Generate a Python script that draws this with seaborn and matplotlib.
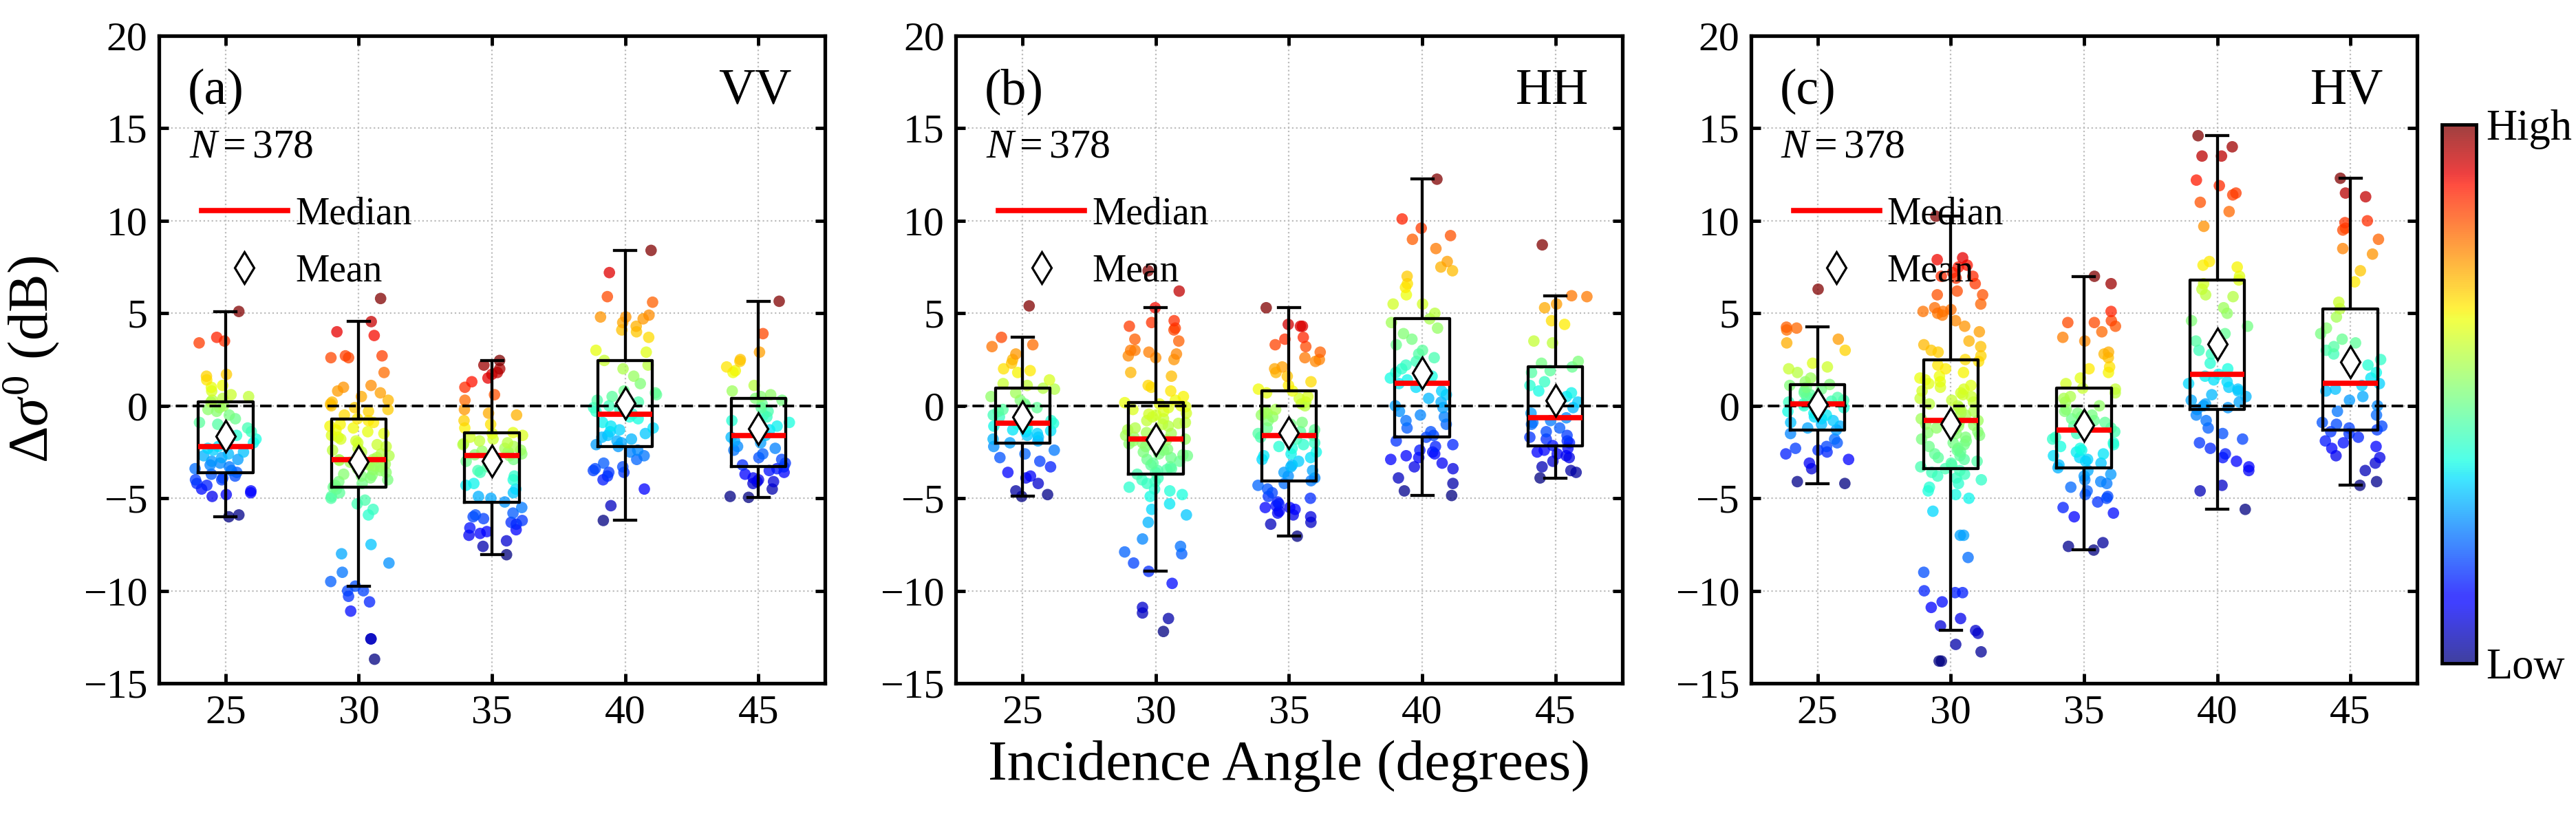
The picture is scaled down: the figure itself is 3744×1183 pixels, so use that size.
import numpy as np
import pandas as pd
import matplotlib
matplotlib.use("Agg")
import matplotlib as mpl
import matplotlib.pyplot as plt
import seaborn as sns
from matplotlib.lines import Line2D

np.random.seed(3)

angles = ["25", "30", "35", "40", "45"]
pols = ["VV", "HH", "HV"]
tags = ["(a)", "(b)", "(c)"]
n_text = "$N = 378$"

# ---- VV ----
vv_25 = [-6.0, -5.9, -4.9, -4.8, -4.7, -4.6, -4.5, -4.3, -4.2, -4.0, -4.0, -3.9, -3.8, -3.7, -3.6,
         -3.5, -3.4, -3.3, -3.2, -3.1, -3.0, -2.9, -2.8, -2.7, -2.6, -2.5, -2.4, -2.3, -2.2,
         -2.0, -1.8, -1.6, -1.4, -1.2, -1.0, -0.9, -0.7, -0.5, -0.3, -0.2, -0.1, 0.0, 0.2,
         0.3, 0.4, 0.5, 0.6, 0.8, 1.0, 1.1, 1.4, 1.6, 1.7, 3.4, 3.5, 3.7, 5.1]
vv_30 = [-13.7, -12.6, -12.6, -11.1, -10.6, -10.3, -10.0, -10.0, -9.75, -9.5, -9.0, -8.5, -8.0, -7.5,
         -5.9, -5.6, -5.3, -5.1, -5.0, -4.9, -4.7, -4.5, -4.4,
         -4.3, -4.2, -4.1, -4.0, -3.9, -3.8, -3.75, -3.7, -3.6, -3.5, -3.45, -3.4, -3.3, -3.25, -3.2,
         -3.15, -3.1, -3.05, -3.0, -2.95, -2.92, -2.9,
         -2.8, -2.7, -2.6, -2.5, -2.4, -2.3, -2.2, -2.1, -2.0, -1.9, -1.8, -1.7, -1.6, -1.5, -1.4,
         -1.3, -1.2, -1.1, -1.0, -0.9, -0.8, -0.7,
         -0.5, -0.3, -0.2, -0.1, 0.0, 0.1, 0.2, 0.3, 0.5, 0.7, 0.8, 1.0, 1.1, 1.8, 2.6, 2.6, 2.7,
         2.7, 3.8, 4.0, 4.55, 5.8]
vv_35 = [-8.05, -7.6, -7.3, -7.0, -6.9, -6.8, -6.7, -6.6, -6.4, -6.3, -6.2, -6.1, -6.0, -5.9, -5.8,
         -5.5, -5.2,
         -5.0, -4.9, -4.7, -4.5, -4.3, -4.2, -4.0, -3.8, -3.6, -3.5, -3.3, -3.2, -3.0, -2.9, -2.8, -2.7,
         -2.65, -2.6, -2.5, -2.45, -2.4, -2.3, -2.2, -2.1, -2.05, -2.0, -1.9, -1.8, -1.7, -1.6, -1.5,
         -1.45,
         -1.2, -1.0, -0.8, -0.5, -0.4, -0.2, 0.3, 0.6, 1.0, 1.3, 1.5, 1.7, 1.8, 2.0, 2.2, 2.45]
vv_40 = [-6.2, -5.4, -4.5, -4.0, -3.8, -3.6, -3.6, -3.5, -3.4, -3.3, -3.1, -2.9, -2.7, -2.5, -2.4, -2.2,
         -2.1, -2.0, -1.9, -1.8, -1.7, -1.6, -1.5, -1.4, -1.3, -1.2, -1.1, -0.9, -0.7, -0.6, -0.45,
         -0.3, -0.2, -0.1, 0.0, 0.2, 0.3, 0.5, 0.6, 0.7, 0.8, 1.2, 1.6, 2.0, 2.2, 2.45,
         2.9, 3.0, 3.7, 4.0, 4.1, 4.3, 4.5, 4.7, 4.8, 4.8, 4.9, 5.6, 5.9, 7.2, 8.4]
vv_45 = [-4.95, -4.9, -4.5, -4.2, -4.1, -4.1, -4.0, -3.9, -3.7, -3.6, -3.5, -3.4, -3.3,
         -3.2, -3.1, -2.9, -2.8, -2.6, -2.4, -2.3, -2.2, -2.0, -1.9, -1.7, -1.6,
         -1.5, -1.3, -1.1, -0.9, -0.8, -0.6, -0.5, -0.3, -0.1, 0.1, 0.3, 0.4,
         0.5, 0.6, 0.8, 1.1, 1.8, 1.9, 2.1, 2.4, 2.5, 2.9, 3.9, 5.65]

# ---- HH ----
hh_25 = [-4.9, -4.8, -4.6, -4.2, -3.9, -3.8, -3.6, -3.3, -3.0, -2.8, -2.6, -2.4, -2.2, -2.0,
         -1.9, -1.8, -1.7, -1.6, -1.5, -1.4, -1.35, -1.3, -1.2, -1.1, -1.05, -1.0, -0.95,
         -0.8, -0.6, -0.5, -0.3, -0.2, -0.1, 0.0, 0.1, 0.3, 0.5, 0.7, 0.9, 0.95,
         1.1, 1.2, 1.4, 1.8, 1.9, 2.0, 2.3, 2.5, 2.8, 3.2, 3.3, 3.7, 5.4]
hh_30 = [-12.2, -11.5, -11.2, -10.9, -9.6, -8.95, -8.5, -8.0, -7.9, -7.6, -7.2, -6.3, -5.9, -5.6,
         -5.3, -4.9, -4.8, -4.6, -4.5, -4.4, -4.2, -4.1, -4.0, -3.9, -3.7,
         -3.6, -3.5, -3.45, -3.4, -3.3, -3.2, -3.1, -3.0, -2.9, -2.8, -2.7, -2.65, -2.6, -2.5, -2.4,
         -2.35, -2.3, -2.2, -2.1, -2.05, -2.0, -1.9, -1.85, -1.8,
         -1.7, -1.6, -1.5, -1.45, -1.4, -1.3, -1.2, -1.1, -1.0, -0.95, -0.9, -0.8, -0.7, -0.6, -0.5,
         -0.45, -0.4, -0.3, -0.2, -0.1, -0.05, 0.0, 0.1, 0.17,
         0.3, 0.5, 0.8, 1.0, 1.1, 1.6, 1.8, 2.5, 2.6, 2.7, 2.8, 2.9, 3.0, 3.0, 3.5, 3.6, 4.1, 4.2,
         4.3, 4.5, 4.6, 5.3, 6.2, 7.3]
hh_35 = [-7.05, -6.4, -6.3, -6.0, -5.9, -5.8, -5.7, -5.6, -5.5, -5.5, -5.4, -5.3, -5.2, -5.0, -4.9,
         -4.7, -4.5, -4.3, -4.2, -4.05,
         -3.9, -3.8, -3.6, -3.5, -3.3, -3.2, -3.0, -2.9, -2.8, -2.7, -2.6, -2.5, -2.3, -2.2, -2.1,
         -2.0, -1.8, -1.7, -1.6,
         -1.5, -1.4, -1.3, -1.2, -1.0, -0.9, -0.8, -0.6, -0.5, -0.4, -0.3, -0.2, 0.0, 0.1, 0.2, 0.4,
         0.5, 0.7, 0.8,
         0.9, 1.1, 1.3, 1.6, 1.8, 2.0, 2.1, 2.4, 2.5, 2.6, 2.9, 3.2, 3.3, 3.6, 3.7, 4.3, 4.3, 4.4, 5.3]
hh_40 = [-4.85, -4.6, -4.2, -3.9, -3.4, -3.3, -3.1, -2.9, -2.8, -2.7, -2.6, -2.5, -2.4, -2.2, -2.1,
         -1.9, -1.7,
         -1.6, -1.4, -1.2, -1.0, -0.8, -0.6, -0.5, -0.3, -0.1, 0.0, 0.2, 0.4, 0.6, 0.8, 1.0, 1.2,
         1.4, 1.5, 1.6, 1.8, 2.0, 2.2, 2.4, 2.6, 2.8, 3.0, 3.3, 3.6, 3.9, 4.2, 4.5, 4.7,
         5.0, 5.5, 5.5, 6.0, 6.4, 6.6, 7.0, 7.3, 7.5, 7.8, 8.5, 9.0, 9.2, 9.6, 10.1, 12.25]
hh_45 = [-3.9, -3.6, -3.5, -3.3, -3.0, -2.8, -2.7, -2.6, -2.5, -2.4, -2.3, -2.15,
         -2.0, -1.9, -1.8, -1.7, -1.6, -1.4, -1.2, -1.0, -0.9, -0.8, -0.65,
         -0.4, -0.1, 0.2, 0.5, 0.7, 0.8, 1.1, 1.3, 1.8, 1.9, 2.1,
         2.3, 2.4, 3.4, 3.5, 4.4, 4.6, 5.3, 5.5, 5.9, 5.95, 8.7]

# ---- HV ----
hv_25 = [-4.2, -4.1, -3.4, -3.1, -2.9, -2.6, -2.5, -2.4, -2.3, -2.2, -2.0, -1.8, -1.5, -1.3,
         -1.2, -1.1, -1.0, -0.9, -0.8, -0.7, -0.6, -0.5, -0.4, -0.3, -0.1, 0.0, 0.1,
         0.2, 0.25, 0.3, 0.4, 0.45, 0.5, 0.6, 0.7, 0.8, 0.9, 1.0, 1.1, 1.15,
         1.3, 1.5, 1.8, 2.0, 2.1, 2.3, 3.0, 3.4, 3.6, 4.1, 4.2, 4.25, 6.3]
hv_30 = [-13.8, -13.8, -13.3, -12.9, -12.3, -12.15, -11.9, -11.5, -10.9, -10.6, -10.1, -10.1, -10.0,
         -9.0, -8.2, -7.0, -7.0, -5.7, -5.0, -4.8, -4.6, -4.4, -4.2, -4.0, -3.9, -3.8, -3.7, -3.6,
         -3.5, -3.4,
         -3.3, -3.2, -3.1, -3.0, -2.9, -2.8, -2.7, -2.6, -2.5, -2.4, -2.3, -2.2, -2.1, -2.0, -1.9,
         -1.8, -1.7, -1.6, -1.5, -1.45, -1.4, -1.3, -1.2, -1.1, -1.05, -1.0, -0.95, -0.9, -0.8,
         -0.7, -0.6, -0.5, -0.4, -0.3, -0.2, -0.1, 0.0, 0.1, 0.2, 0.3, 0.4, 0.5, 0.6, 0.7, 0.8, 0.9,
         1.0, 1.1, 1.2, 1.3, 1.4, 1.5, 1.6, 1.8, 2.0, 2.2, 2.4, 2.5,
         2.7, 2.9, 3.0, 3.2, 3.3, 3.5, 4.0, 4.3, 4.6, 4.9, 5.0, 5.1, 5.1, 5.2, 5.3, 5.5, 6.0, 6.0,
         6.2, 6.6, 6.9, 7.0, 7.0, 7.2, 7.5, 7.6, 7.9, 8.0, 10.25]
hv_35 = [-7.8, -7.6, -7.4, -6.0, -5.8, -5.5, -5.2, -5.0, -4.9, -4.8, -4.6, -4.4, -4.2, -4.1, -4.0,
         -3.8, -3.7, -3.5, -3.35,
         -3.2, -3.1, -3.0, -2.9, -2.8, -2.7, -2.6, -2.5, -2.4, -2.3, -2.2, -2.1, -2.0, -1.8, -1.7,
         -1.5, -1.4, -1.3,
         -1.2, -1.1, -1.0, -0.9, -0.8, -0.7, -0.6, -0.5, -0.4, -0.3, -0.2, 0.0, 0.2, 0.4, 0.5, 0.7,
         0.9, 0.95,
         1.2, 1.5, 1.8, 2.0, 2.1, 2.6, 2.8, 2.9, 3.5, 3.7, 4.0, 4.3, 4.5, 4.5, 4.6, 5.1, 6.6, 7.0]
hv_40 = [-5.6, -4.6, -4.3, -3.5, -3.3, -3.0, -2.8, -2.6, -2.3, -2.0, -1.8, -1.5, -1.2, -0.8, -0.5, -0.2,
         -0.1, 0.0, 0.1, 0.2, 0.3, 0.5, 0.6, 0.8, 0.9, 1.0, 1.2, 1.3, 1.4, 1.6, 1.7,
         2.0, 2.3, 2.8, 3.0, 3.5, 3.9, 4.3, 4.6, 5.0, 5.3, 5.9, 6.0, 6.3, 6.6, 6.8,
         7.0, 7.5, 7.6, 7.8, 9.7, 10.5, 11.0, 11.4, 11.5, 11.9, 12.2, 13.5, 13.5, 14.0, 14.6]
hv_45 = [-4.3, -4.1, -3.5, -3.1, -2.8, -2.7, -2.3, -2.2, -2.0, -1.9, -1.7, -1.5, -1.4, -1.3,
         -1.2, -1.1, -1.0, -0.9, -0.5, -0.3, 0.0, 0.3, 0.5, 0.8, 0.9, 1.1, 1.2,
         1.5, 1.8, 2.2, 2.5, 2.8, 3.0, 3.2, 3.4, 3.6, 3.9, 4.2, 4.8, 5.25,
         5.6, 6.7, 7.3, 8.2, 8.5, 9.0, 9.5, 9.6, 9.9, 10.0, 11.3, 11.5, 12.3]

panels = [
    [vv_25, vv_30, vv_35, vv_40, vv_45],
    [hh_25, hh_30, hh_35, hh_40, hh_45],
    [hv_25, hv_30, hv_35, hv_40, hv_45],
]


def make_frame(groups):
    rows = []
    for ang, vals in zip(angles, groups):
        v = np.asarray(vals, dtype=float)
        c = (v - v.min()) / (v.max() - v.min())
        for vi, ci in zip(v, c):
            rows.append((ang, vi, ci))
    return pd.DataFrame(rows, columns=["angle", "val", "c"])


plt.rcParams["font.family"] = ["Liberation Serif", "DejaVu Serif"]
plt.rcParams["mathtext.fontset"] = "custom"
plt.rcParams["mathtext.rm"] = "Liberation Serif"
plt.rcParams["mathtext.it"] = "Liberation Serif:italic"
plt.rcParams["mathtext.bf"] = "Liberation Serif:bold"

JET = mpl.colormaps["jet"]
TICK_FS = 43
LABEL_FS = 60
TAG_FS = 53
LEG_FS = 40
ALPHA = 0.75
MEAN_KW = dict(marker="d", markerfacecolor="white", markeredgecolor="black",
               markersize=23, markeredgewidth=2.3)

fig = plt.figure(figsize=(37.44, 11.83), dpi=100)
lefts = [0.0617, 0.3711, 0.6797]
bottom, width, height = 0.1606, 0.2586, 0.7954

for i in range(3):
    ax = fig.add_axes([lefts[i], bottom, width, height])
    df = make_frame(panels[i])

    sns.stripplot(data=df, x="angle", y="val", order=angles, hue="c", palette=JET,
                  hue_norm=(0, 1), legend=False, jitter=0.24, size=12, alpha=ALPHA,
                  linewidth=0, ax=ax, zorder=1)
    ax.axhline(0, color="black", ls=(0, (4.3, 2.0)), lw=2.8, zorder=1.5)
    sns.boxplot(data=df, x="angle", y="val", order=angles, width=0.41, fill=False,
                color="black", linecolor="black", linewidth=3.1, showfliers=False,
                showmeans=True, whis=1.5, capwidths=0.16,
                medianprops=dict(color="red", linewidth=5.5),
                meanprops=MEAN_KW, ax=ax)

    ax.set_xlim(-0.5, 4.5)
    ax.set_ylim(-15, 20)
    ax.set_yticks(np.arange(-15, 21, 5))
    ax.set_axisbelow(True)
    ax.xaxis.grid(True, ls=":", color="#bdbdbd", lw=1.6)
    ax.yaxis.grid(True, ls=":", color="#bdbdbd", lw=1.6)
    ax.tick_params(direction="in", top=True, right=True, length=10, width=3.5,
                   labelsize=TICK_FS)
    ax.tick_params(axis="y", pad=12)
    ax.tick_params(axis="x", pad=12)
    for s in ax.spines.values():
        s.set_linewidth(3.8)
        s.set_zorder(5)

    if i == 0:
        ax.set_ylabel(r"$\Delta\sigma^0$ (dB)", fontsize=LABEL_FS)
        ax.yaxis.set_label_coords(-0.147, 0.5)
    else:
        ax.set_ylabel("")
    if i == 1:
        ax.set_xlabel("Incidence Angle (degrees)", fontsize=LABEL_FS)
        ax.xaxis.set_label_coords(0.5, -0.088)
    else:
        ax.set_xlabel("")

    ax.text(0.043, 0.895, tags[i], transform=ax.transAxes, fontsize=TAG_FS,
            ha="left", va="baseline")
    ax.text(0.95, 0.895, pols[i], transform=ax.transAxes, fontsize=TAG_FS,
            ha="right", va="baseline")
    ax.text(0.045, 0.812, n_text, transform=ax.transAxes, fontsize=TICK_FS,
            ha="left", va="baseline")

    handles = [Line2D([], [], color="red", lw=5.5),
               Line2D([], [], ls="none", **MEAN_KW)]
    ax.legend(handles, ["Median", "Mean"], loc="upper left", bbox_to_anchor=(0.064, 0.752),
              frameon=False, fontsize=LEG_FS, handlelength=2.25, handletextpad=0.2,
              labelspacing=0.56, borderpad=0, borderaxespad=0)

cax = fig.add_axes([0.9479, 0.1851, 0.01335, 0.6619])
sm = mpl.cm.ScalarMappable(norm=mpl.colors.Normalize(0, 1), cmap=JET)
cb = fig.colorbar(sm, cax=cax, ticks=[0, 1], alpha=ALPHA)
cb.set_ticklabels(["Low", "High"])
cax.tick_params(length=0, labelsize=TICK_FS + 2, pad=10)
cb.outline.set_linewidth(3.5)

fig.savefig("out.png", dpi=100)
